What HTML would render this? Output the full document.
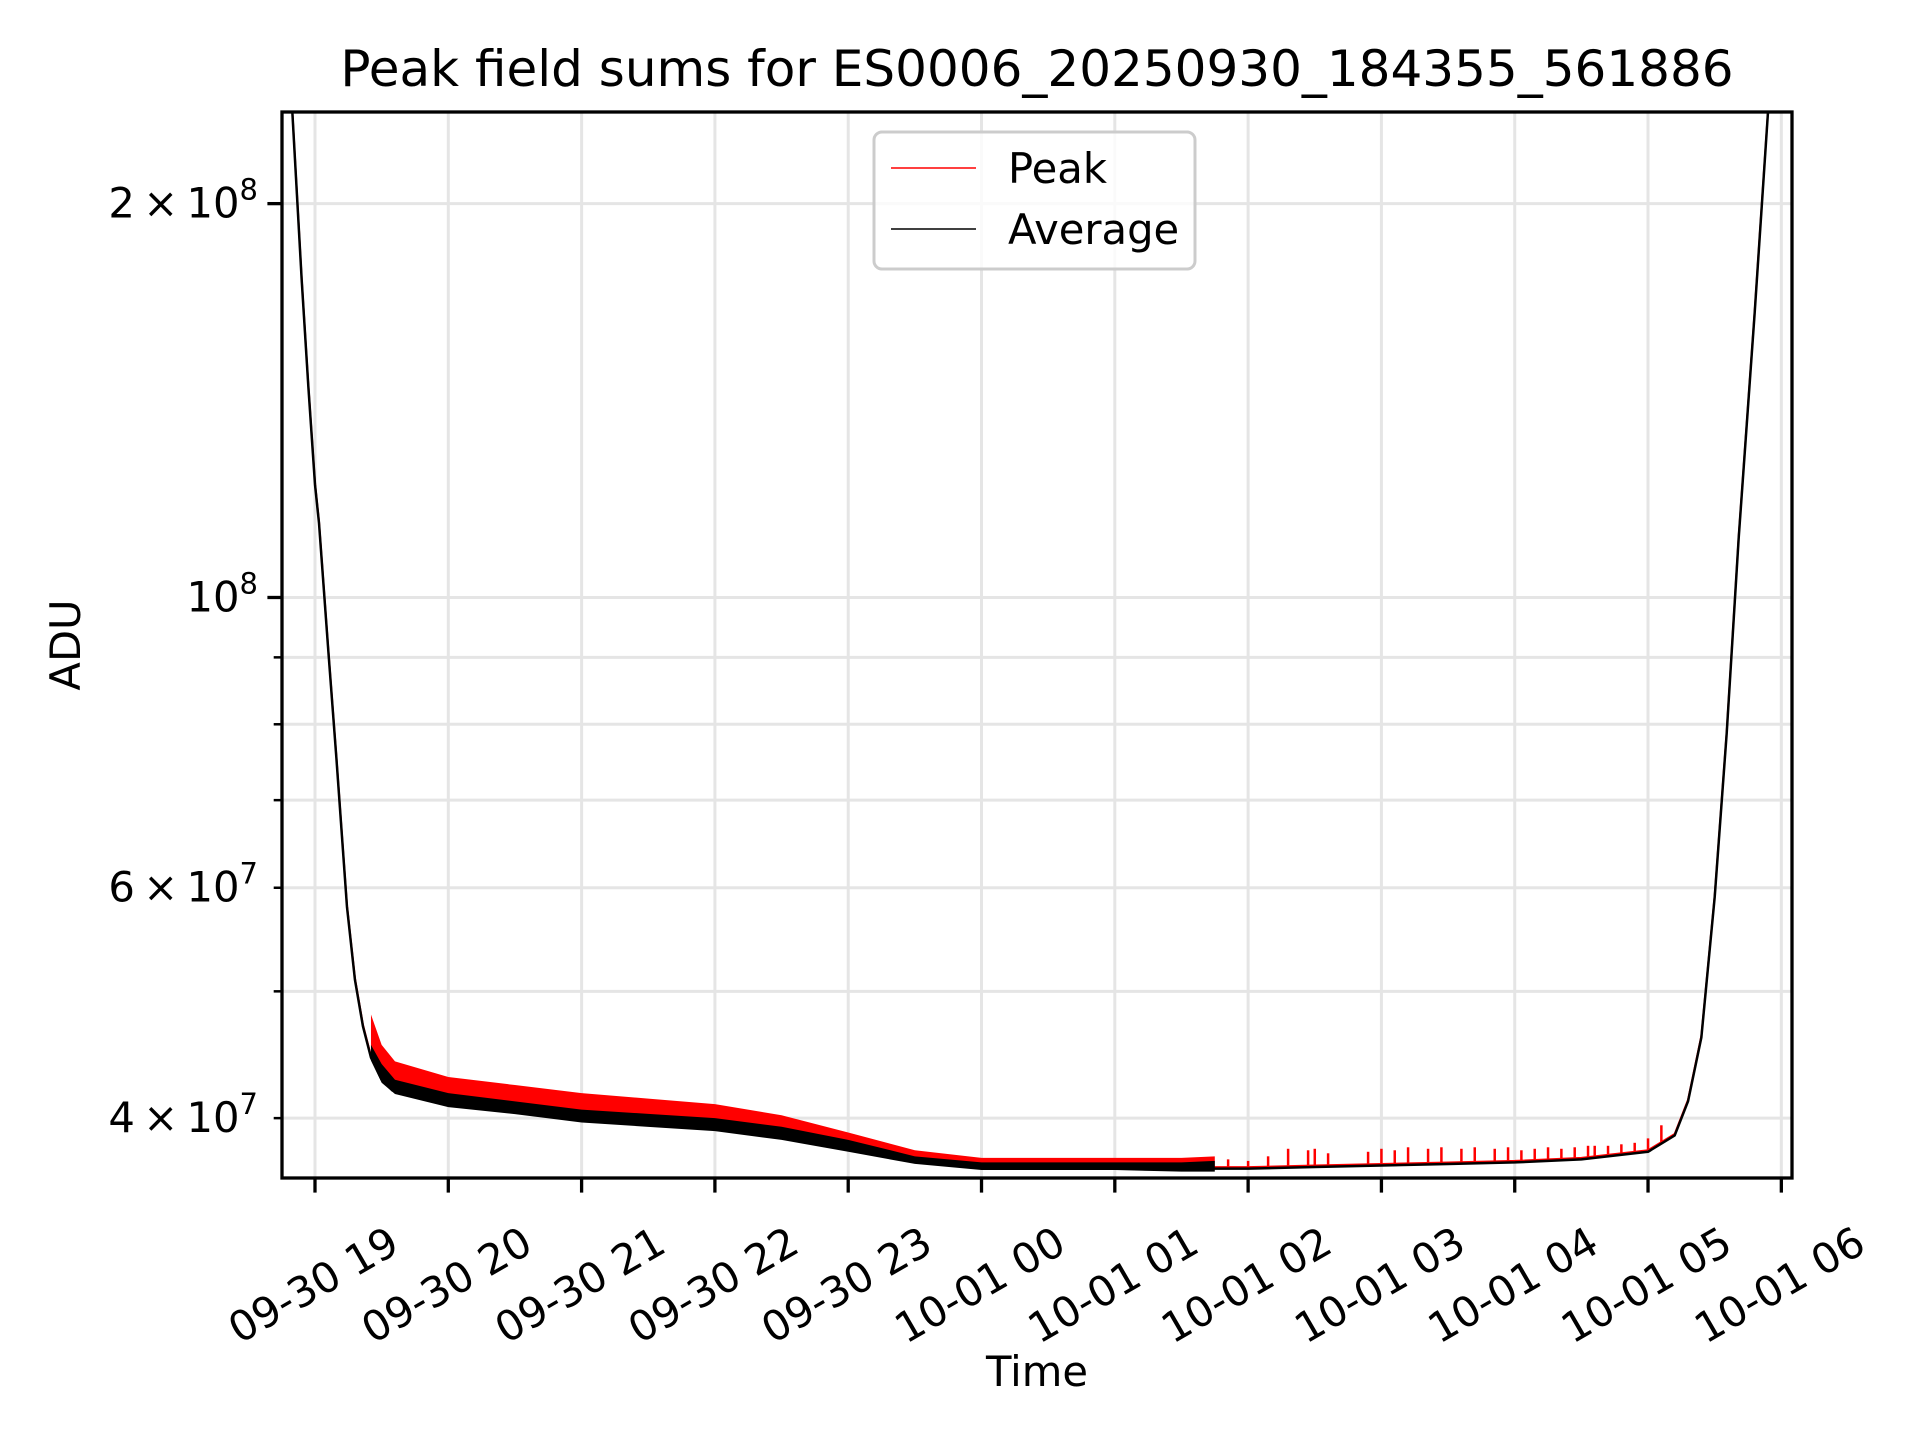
<!DOCTYPE html>
<html><head><meta charset="utf-8"><style>
html,body{margin:0;padding:0;background:#fff;}
svg{display:block;font-family:"DejaVu Sans","Liberation Sans",sans-serif;}
</style></head><body>
<svg id="chart" width="1920" height="1440" viewBox="0 0 1920 1440" xmlns="http://www.w3.org/2000/svg">
<rect width="1920" height="1440" fill="#fff"/>
<text x="1037" y="86" font-size="50" text-anchor="middle">Peak field sums for ES0006_20250930_184355_561886</text>
<g id="grid"></g>
<g id="series" clip-path="url(#clip)"></g>
<clipPath id="clip"><rect x="282" y="112" width="1510" height="1066"/></clipPath>
<rect x="282" y="112" width="1510" height="1066" fill="none" stroke="#000" stroke-width="3.3"/>
<g id="axes"></g>
<text transform="translate(80,645) rotate(-90)" font-size="41.7" text-anchor="middle">ADU</text>
<text x="1037" y="1386" font-size="41.7" text-anchor="middle">Time</text>
<g>
<rect x="874" y="132" width="321" height="137" rx="8" fill="#fff" fill-opacity="0.8" stroke="#ccc" stroke-width="3"/>
<line x1="891" y1="168" x2="976" y2="168" stroke="#f00" stroke-width="1.5"/>
<text x="1008" y="183" font-size="41.7">Peak</text>
<line x1="891" y1="229" x2="976" y2="229" stroke="#000" stroke-width="1.5"/>
<text x="1008" y="244" font-size="41.7">Average</text>
</g>
</svg>
<script>
// time in hours after 09-30 19:00; values in units of 1e7 ADU
const avgTimes = [-0.25,-0.17,-0.1,-0.05,0,0.03,0.1,0.16,0.24,0.3,0.36,0.42,0.5,0.58,0.75,1,1.5,2,2.5,3,3.5,4,4.5,5,5.5,6,6.5,7,7.5,8,8.5,9,9.5,10,10.2,10.3,10.4,10.5,10.59,10.68,10.8,10.9,11.0];
const avgValues = [30,23.5,17.5,14.5,12.2,11.4,9.1,7.55,5.8,5.1,4.7,4.45,4.28,4.2,4.16,4.10,4.05,3.99,3.96,3.93,3.87,3.79,3.71,3.67,3.67,3.67,3.66,3.66,3.67,3.68,3.69,3.70,3.72,3.77,3.88,4.12,4.61,5.9,7.87,11.1,16.5,23.5,30];
const noisyTimes = [0.42,0.5,0.6,1,1.5,2,2.5,3,3.5,4,4.5,5,5.5,6,6.5,6.75];
const peakTop = [4.8,4.55,4.42,4.3,4.24,4.18,4.14,4.1,4.02,3.9,3.78,3.73,3.73,3.73,3.73,3.74];
const avgTop = [4.55,4.4,4.28,4.18,4.12,4.06,4.03,4.0,3.94,3.85,3.74,3.70,3.70,3.70,3.70,3.71];
const spikeTimes = [6.85,7.0,7.15,7.3,7.45,7.5,7.6,7.9,8.0,8.1,8.2,8.35,8.45,8.6,8.7,8.85,8.95,9.05,9.15,9.25,9.35,9.45,9.55,9.6,9.7,9.8,9.9,10.0,10.1];
const spikeValues = [3.72,3.71,3.74,3.79,3.78,3.79,3.76,3.77,3.79,3.78,3.80,3.79,3.80,3.79,3.80,3.79,3.80,3.78,3.79,3.80,3.79,3.80,3.81,3.81,3.81,3.82,3.83,3.86,3.95];
const xTickLabels = ["09-30 19","09-30 20","09-30 21","09-30 22","09-30 23","10-01 00","10-01 01","10-01 02","10-01 03","10-01 04","10-01 05","10-01 06"];
const yMajor = [10,20];
const yMinor = [4,5,6,7,8,9];
const yLabelled = {4:["4","7"],6:["6","7"],10:["","8"],20:["2","8"]};

const NS="http://www.w3.org/2000/svg";
const X0=282,X1=1792,Y0=112,Y1=1178;
const tMin=-0.2475,tMax=11.08, lMin=Math.log10(3.6),lMax=Math.log10(23.5);
function x(t){return X0+(t-tMin)/(tMax-tMin)*(X1-X0);}
function y(v){return Y1-(Math.log10(v)-lMin)/(lMax-lMin)*(Y1-Y0);}
function mk(tag,attrs,parent){const e=document.createElementNS(NS,tag);for(const k in attrs)e.setAttribute(k,attrs[k]);parent.appendChild(e);return e;}
function avgAt(tt){for(let k=0;k<avgTimes.length-1;k++){if(tt>=avgTimes[k]&&tt<=avgTimes[k+1]){const f=(tt-avgTimes[k])/(avgTimes[k+1]-avgTimes[k]);return avgValues[k]+f*(avgValues[k+1]-avgValues[k]);}}return avgValues[0];}
const grid=document.getElementById('grid'),axes=document.getElementById('axes'),ser=document.getElementById('series');

xTickLabels.forEach((lab,i)=>{
  const px=x(i);
  const g=mk('line',{x1:px,x2:px,y1:Y0,y2:Y1,stroke:'#e5e5e5','stroke-width':3},grid);
  
  
  const tk=mk('line',{x1:px,x2:px,y1:Y1,y2:Y1+14.6,stroke:'#000','stroke-width':3.3},axes);
  
  
  const tx=mk('text',{transform:`translate(${px},${1288}) rotate(-30)`,'font-size':41.7,'text-anchor':'middle','dominant-baseline':'middle'},axes);
  tx.textContent=lab;
  
  
});
yMajor.concat(yMinor).forEach(v=>{
  const py=y(v);
  const g=mk('line',{x1:X0,x2:X1,y1:py,y2:py,stroke:'#e5e5e5','stroke-width':3},grid);
  
  
  const major=yMajor.includes(v);
  const tk=mk('line',{x1:X0-(major?14.6:8.3),x2:X0,y1:py,y2:py,stroke:'#000','stroke-width':major?3.3:2.5},axes);
  
  
  const L=yLabelled[v];
  if(L){
    const tx=mk('text',{x:X0-24,y:py+14,'font-size':41.7,'text-anchor':'end'},axes);
    
    
    tx.innerHTML=(L[0]?L[0]+'\u2009\u00d7\u2009':'')+'10<tspan dy="-18" font-size="29">'+L[1]+'</tspan>';
  }
});

// peak noisy band (red)
const pb=mk('path',{d:'M'+noisyTimes.map((t,i)=>x(t)+','+y(peakTop[i])).join('L')+'L'+noisyTimes.slice().reverse().map(t=>x(t)+','+y(avgAt(t))).join('L')+'Z',fill:'#f00'},ser);


spikeTimes.forEach((t,i)=>{
  const s=mk('line',{x1:x(t),x2:x(t),y1:y(spikeValues[i]),y2:y(avgAt(t)),stroke:'#f00','stroke-width':2.5},ser);
  
  
});
const pl=mk('polyline',{points:avgTimes.map((t,i)=>x(t)+','+(y(avgValues[i])-1.5)).join(' '),fill:'none',stroke:'#f00','stroke-width':2},ser);


// average noisy band (black)
const ab=mk('path',{d:'M'+noisyTimes.map((t,i)=>x(t)+','+y(avgTop[i])).join('L')+'L'+noisyTimes.slice().reverse().map(t=>x(t)+','+(y(avgAt(t))+3)).join('L')+'Z',fill:'#000'},ser);


const al=mk('polyline',{points:avgTimes.map((t,i)=>x(t)+','+y(avgValues[i])).join(' '),fill:'none',stroke:'#000','stroke-width':2.5,'stroke-linejoin':'round'},ser);


</script>
</body></html>
